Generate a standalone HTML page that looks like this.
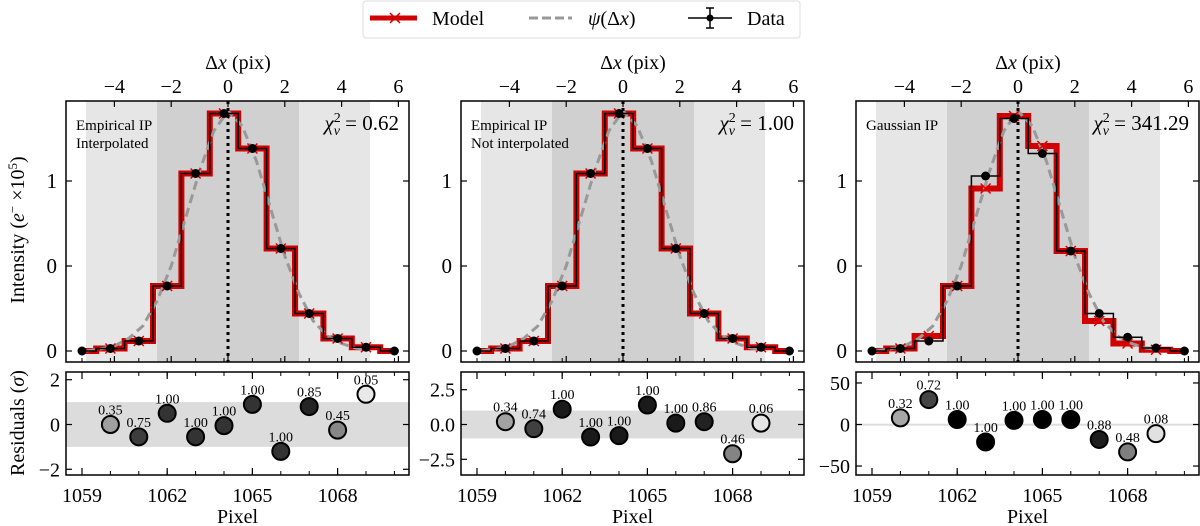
<!DOCTYPE html>
<html><head><meta charset="utf-8">
<style>
html,body{margin:0;padding:0;background:#fff;}
svg{display:block;font-family:"Liberation Serif",serif;}
</style></head>
<body>
<svg id="fig" width="1200" height="526" viewBox="0 0 1200 526" xmlns="http://www.w3.org/2000/svg">
  <g>
    <rect x="363" y="1" width="437" height="37" rx="3" fill="#fff" stroke="#ddd"/>
    <g>
      <line x1="370" y1="18" x2="417" y2="18" stroke="#d00000" stroke-width="5"/>
      <line x1="390" y1="13" x2="400" y2="23" stroke="#d00000" stroke-width="1.5"/>
      <line x1="390" y1="23" x2="400" y2="13" stroke="#d00000" stroke-width="1.5"/>
      <text x="432" y="25" font-size="20">Model</text>
    </g>
    <g>
      <line x1="529" y1="18" x2="572" y2="18" stroke="#999" stroke-width="3" stroke-dasharray="9,4"/>
      <text x="588" y="25" font-size="20"><tspan font-style="italic">ψ</tspan>(Δ<tspan font-style="italic">x</tspan>)</text>
    </g>
    <g>
      <line x1="688" y1="18" x2="732" y2="18" stroke="#000" stroke-width="1.5"/>
      <line x1="710" y1="8" x2="710" y2="28" stroke="#000" stroke-width="1.5"/>
      <line x1="706" y1="8" x2="714" y2="8" stroke="#000" stroke-width="1.5"/>
      <line x1="706" y1="28" x2="714" y2="28" stroke="#000" stroke-width="1.5"/>
      <circle cx="710" cy="18" r="3.5" fill="#000"/>
      <text x="747" y="25" font-size="20">Data</text>
    </g>
  </g>
  <text transform="translate(24,230) rotate(-90)" text-anchor="middle" font-size="20">Intensity (<tspan font-style="italic">e</tspan><tspan baseline-shift="super" font-size="13">−</tspan> ×10<tspan baseline-shift="super" font-size="13">5</tspan>)</text>
  <text transform="translate(24,423) rotate(-90)" text-anchor="middle" font-size="20">Residuals (<tspan font-style="italic">σ</tspan>)</text>
</svg>
<script>
// ---- data ----
const pixels = [1059,1060,1061,1062,1063,1064,1065,1066,1067,1068,1069,1070];
const data1 = [0,0.01,0.04,0.26,0.71,0.95,0.81,0.41,0.15,0.05,0.015,0];
const data3 = [0,0.01,0.04,0.26,0.70,0.93,0.79,0.40,0.15,0.055,0.012,0];
const modelPixels = [1060,1061,1062,1063,1064,1065,1066,1067,1068,1069];
const model1 = [0.01,0.04,0.26,0.71,0.95,0.81,0.41,0.15,0.05,0.015];
const model2 = [0.01,0.04,0.26,0.71,0.95,0.81,0.41,0.15,0.05,0.015];
const model3 = [0.01,0.06,0.26,0.65,0.94,0.82,0.40,0.12,0.03,0.005];
const psiDx = [-5,-4.5,-4,-3.5,-3,-2.5,-2,-1.5,-1,-0.5,0,0.5,1,1.5,2,2.5,3,3.5,4,4.5,5];
const psiVals = [0,0.008,0.02,0.05,0.10,0.2,0.34,0.53,0.72,0.88,0.96,0.9,0.76,0.57,0.38,0.23,0.12,0.06,0.03,0.012,0.005];
const resid1 = [0,-0.55,0.5,-0.55,-0.05,0.9,-1.2,0.8,-0.25,1.35];
const resid2 = [0.2,-0.3,1.1,-0.9,-0.8,1.4,0.1,0.2,-2.1,0.1];
const resid3 = [8,30,6,-21,5,6,6,-18,-33,-11];
const wts1 = [0.35,0.75,1.00,1.00,1.00,1.00,1.00,0.85,0.45,0.05];
const wts2 = [0.34,0.74,1.00,1.00,1.00,1.00,1.00,0.86,0.46,0.06];
const wts3 = [0.32,0.72,1.00,1.00,1.00,1.00,1.00,0.88,0.48,0.08];
const intTicks = [0,0.34,0.68];
const intTickLabels = ["0","0","1"];
const dxTicks = [-4,-2,0,2,4,6];
const pixTicks = [1059,1062,1065,1068];
const resTicks1 = [-2,0,2];
const resTicks2 = [-2.5,0,2.5];
const resTickLabels2 = ["−2.5","0.0","2.5"];
const resTicks3 = [-50,0,50];

const NS="http://www.w3.org/2000/svg";
const svg=document.getElementById('fig');
function mk(tag,attrs,parent){const e=document.createElementNS(NS,tag);for(const k in attrs)e.setAttribute(k,attrs[k]);(parent||svg).appendChild(e);return e;}
function fmt(v){return v<0?"−"+(-v):String(v);}

const panels=[
 {left:66,data:data1,model:model1,resid:resid1,wts:wts1,rmax:2.3,rticks:resTicks1,rlabels:resTicks1.map(fmt),band:1,chi:"0.62",ann:["Empirical IP","Interpolated"],name:"interpolated",dark:'#333'},
 {left:461,data:data1,model:model2,resid:resid2,wts:wts2,rmax:3.7,rticks:resTicks2,rlabels:resTickLabels2,band:1,chi:"1.00",ann:["Empirical IP","Not interpolated"],name:"not-interpolated",dark:'#1a1a1a'},
 {left:856,data:data3,model:model3,resid:resid3,wts:wts3,rmax:62,rticks:resTicks3,rlabels:resTicks3.map(fmt),band:1,chi:"341.29",ann:["Gaussian IP"],name:"gaussian",dark:'#000'}
];
const W=343, TOP=101, BOT=362, RTOP=372, RBOT=475, PXU=28.4;

panels.forEach((P,pi)=>{
  const g=mk('g',{});
  
  
  const xPix=p=>P.left+16+(p-1059)*PXU;
  const xDx=d=>P.left+162+d*PXU;
  const yI=v=>351-v*250;
  const rc=(RTOP+RBOT)/2+1;
  const yR=v=>rc-v*(RBOT-RTOP)/2/P.rmax;
  const b1=mk('rect',{x:xDx(-5),y:TOP,width:xDx(5)-xDx(-5),height:BOT-TOP,fill:'#e6e6e6'},g);
  
  
  const b2=mk('rect',{x:xDx(-2.5),y:TOP,width:xDx(2.5)-xDx(-2.5),height:BOT-TOP,fill:'#d0d0d0'},g);
  
  
  function stepPath(ps,vs){let d='';ps.forEach((p,i)=>{const y=yI(vs[i]);d+=(i===0?'M':'L')+(xPix(p)-(i===0?0:PXU/2))+','+y+' L'+(xPix(p)+(i===ps.length-1?0:PXU/2))+','+y+' ';});return d;}
  const mp=[1059].concat(modelPixels,[1070]);
  const mv=[P.data[0]].concat(P.model,[P.data[11]]);
  const ml=mk('path',{d:stepPath(mp,mv),fill:'none',stroke:'#d00000','stroke-width':6},g);
  
  
  let pd='';psiDx.forEach((d,i)=>{pd+=(i?'L':'M')+xDx(d)+','+yI(psiVals[i])+' ';});
  const pl=mk('path',{d:pd,fill:'none',stroke:'#999','stroke-width':3,'stroke-dasharray':'9,5'},g);
  
  
  const dl=mk('path',{d:stepPath(pixels,P.data),fill:'none',stroke:'#000','stroke-width':1.5},g);
  
  
  modelPixels.forEach((p,i)=>{
    const x=xPix(p),y=yI(P.model[i]);
    const m=mk('path',{d:'M'+(x-5)+','+(y-5)+'L'+(x+5)+','+(y+5)+'M'+(x-5)+','+(y+5)+'L'+(x+5)+','+(y-5),stroke:'#e00000','stroke-width':1.5,fill:'none'},g);
    
    
  });
  pixels.forEach((p,i)=>{
    const c=mk('circle',{cx:xPix(p),cy:yI(P.data[i]),r:4.5,fill:'#000'},g);
    
    
  });
  const dv=mk('line',{x1:xDx(0),y1:TOP,x2:xDx(0),y2:BOT,stroke:'#000','stroke-width':3,'stroke-dasharray':'3,4'},g);
  
  
  const fr=mk('rect',{x:P.left,y:TOP,width:W,height:BOT-TOP,fill:'none',stroke:'#000','stroke-width':1.5},g);
  
  
  dxTicks.forEach(d=>{
    const x=xDx(d);
    mk('line',{x1:x,y1:TOP,x2:x,y2:TOP+6,stroke:'#000','stroke-width':1.2},g);
    mk('line',{x1:x,y1:BOT,x2:x,y2:BOT-6,stroke:'#000','stroke-width':1.2},g);
    const t=mk('text',{x:x,y:93,'font-size':20,'text-anchor':'middle'},g);
    t.textContent=fmt(d);
    
    
  });
  for(let p=1059;p<=1070;p++){const x=xPix(p);mk('line',{x1:x,y1:BOT,x2:x,y2:BOT-4,stroke:'#000'},g);mk('line',{x1:x,y1:RTOP,x2:x,y2:RTOP+4,stroke:'#000'},g);mk('line',{x1:x,y1:RBOT,x2:x,y2:RBOT-4,stroke:'#000'},g);}
  const tt=mk('text',{x:P.left+172,y:69,'font-size':20,'text-anchor':'middle'},g);
  tt.innerHTML='Δ<tspan font-style="italic">x</tspan> (pix)';
  
  
  intTicks.forEach((v,i)=>{
    const y=yI(v);
    mk('line',{x1:P.left,y1:y,x2:P.left+6,y2:y,stroke:'#000','stroke-width':1.2},g);
    mk('line',{x1:P.left+W,y1:y,x2:P.left+W-6,y2:y,stroke:'#000','stroke-width':1.2},g);
    const t=mk('text',{x:P.left-9,y:y+7,'font-size':21,'text-anchor':'end'},g);
    t.textContent=intTickLabels[i];
    
    
  });
  P.ann.forEach((s,i)=>{
    const t=mk('text',{x:P.left+10,y:130+i*18,'font-size':15},g);
    t.textContent=s;
    
    
  });
  const ch=mk('text',{x:P.left+W-10,y:130,'font-size':21,'text-anchor':'end'},g);
  ch.innerHTML='<tspan font-style="italic">χ</tspan><tspan font-size="14" dy="-8">2</tspan><tspan font-size="14" dx="-7" dy="13" font-style="italic">ν</tspan><tspan dy="-5"> = '+P.chi+'</tspan>';
  
  
  const bh=yR(-P.band)-yR(P.band);
  const rb=mk('rect',{x:P.left,y:yR(P.band),width:W,height:Math.max(bh,2),fill:'#dcdcdc'},g);
  
  
  P.rticks.forEach((v,i)=>{
    const y=yR(v);
    mk('line',{x1:P.left,y1:y,x2:P.left+6,y2:y,stroke:'#000','stroke-width':1.2},g);
    mk('line',{x1:P.left+W,y1:y,x2:P.left+W-6,y2:y,stroke:'#000','stroke-width':1.2},g);
    const t=mk('text',{x:P.left-6,y:y+7,'font-size':20,'text-anchor':'end'},g);
    t.textContent=P.rlabels[i];
    
    
  });
  modelPixels.forEach((p,i)=>{
    const w=P.wts[i];const l=Math.round(245*(1-w));
    const c=mk('circle',{cx:xPix(p),cy:yR(P.resid[i]),r:8.5,fill:w>=1?P.dark:'rgb('+l+','+l+','+l+')',stroke:'#000','stroke-width':2},g);
    
    
    const t=mk('text',{x:xPix(p),y:yR(P.resid[i])-10,'font-size':14,'text-anchor':'middle'},g);
    t.textContent=w.toFixed(2);
    
    
  });
  const rf=mk('rect',{x:P.left,y:RTOP,width:W,height:RBOT-RTOP,fill:'none',stroke:'#000','stroke-width':1.5},g);
  
  
  pixTicks.forEach(p=>{
    const x=xPix(p);
    mk('line',{x1:x,y1:RBOT,x2:x,y2:RBOT-7,stroke:'#000','stroke-width':1.2},g);
    mk('line',{x1:x,y1:RTOP,x2:x,y2:RTOP+7,stroke:'#000','stroke-width':1.2},g);
    const t=mk('text',{x:x,y:502,'font-size':20,'text-anchor':'middle'},g);
    t.textContent=p;
    
    
  });
  const xt=mk('text',{x:P.left+W/2,y:523,'font-size':20,'text-anchor':'middle'},g);
  xt.textContent='Pixel';
  
  
});
</script>
</body></html>
